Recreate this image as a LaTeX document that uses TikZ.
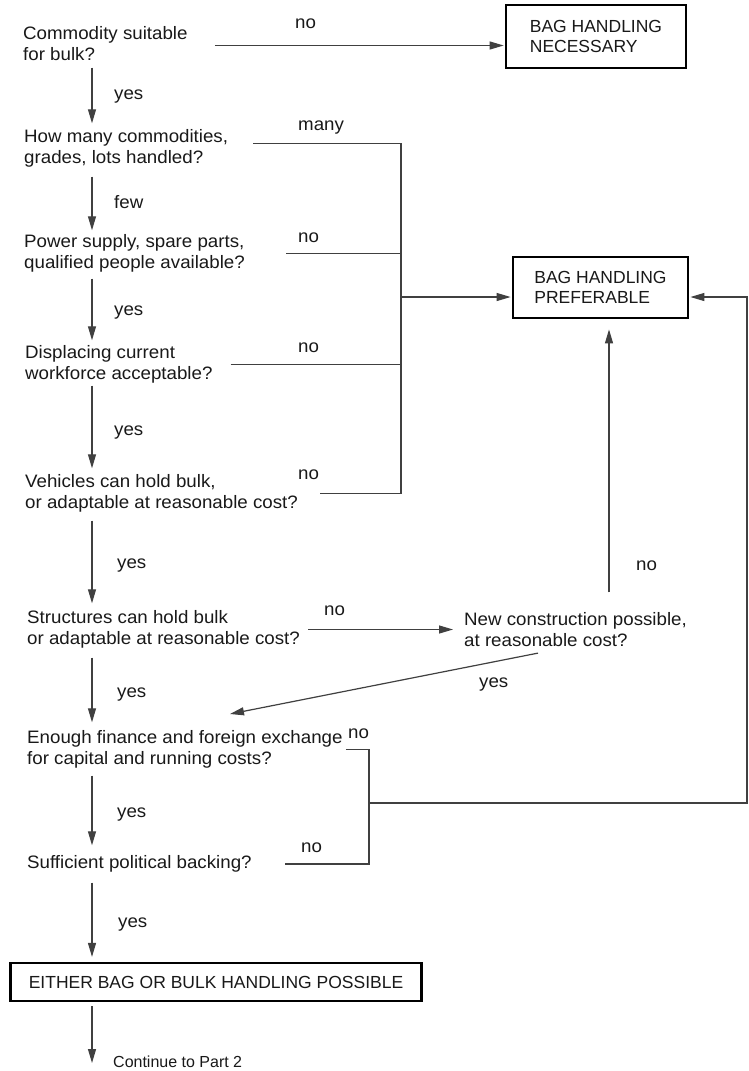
\documentclass[tikz,border=0pt]{standalone}
\usepackage{fontspec}
\setmainfont{Liberation Sans}
\newfontfamily\qfam[FakeStretch=1.04]{Liberation Sans}
\usetikzlibrary{arrows.meta,calc}
\newcommand{\qfnt}{\qfam\fontsize{18}{21}\selectfont}
\newcommand{\bfnt}{\fontsize{17.5}{20}\selectfont}
\newcommand{\cfnt}{\fontsize{16}{19}\selectfont}
\definecolor{txt}{gray}{0.1}
\definecolor{lnc}{gray}{0.25}
\begin{document}
\begin{tikzpicture}[x=1pt,y=-1pt,
  q/.style={anchor=north west, inner sep=0pt, align=left, font=\qfnt, text=txt},
  lbl/.style={anchor=base west, inner sep=0pt, font=\qfnt, text=txt},
  ln/.style={draw=lnc, line width=1.2pt},
  arr/.style={ln, -{Triangle[length=14pt,width=8pt]}},
  outbox/.style={draw=black, line width=2.8pt, align=left, font=\bfnt, inner sep=0pt, text=txt},
]
\useasboundingbox (0,0) rectangle (748,1071);
\fill[white] (0,0) rectangle (748,1071);

% questions
\node[q] (q1) at (23,24.3) {\strut Commodity suitable\\for bulk?\strut};
\node[q] (q2) at (24,127.3) {\strut How many commodities,\\grades, lots handled?\strut};
\node[q] (q3) at (24,232.3) {\strut Power supply, spare parts,\\qualified people available?\strut};
\node[q] (q4) at (25,343.3) {\strut Displacing current\\workforce acceptable?\strut};
\node[q] (q5) at (25,472.3) {\strut Vehicles can hold bulk,\\or adaptable at reasonable cost?\strut};
\node[q] (q6) at (27,608.3) {\strut Structures can hold bulk\\or adaptable at reasonable cost?\strut};
\node[q] (q7) at (464,610.3) {\strut New construction possible,\\at reasonable cost?\strut};
\node[q] (q8) at (27,728.3) {\strut Enough finance and foreign exchange\\for capital and running costs?\strut};
\node[q] (q9) at (27,853.3) {\strut Sufficient political backing?\strut};

% outcome boxes
\node[outbox, minimum width=180pt, minimum height=63pt] (nec) at (596,36.5) {BAG HANDLING\\NECESSARY};
\node[outbox, minimum width=175pt, minimum height=61pt] (pref) at (600.5,287.5) {BAG HANDLING\\PREFERABLE};
\node[outbox, line width=2.2pt, minimum width=411pt, minimum height=38pt] (either) at (216,982) {EITHER BAG OR BULK HANDLING POSSIBLE};

% helper coordinates
\coordinate (sp) at (92,0);
\coordinate (bus) at (401,0);
\coordinate (bus2) at (369,0);
\coordinate (up) at (609,0);
\coordinate (dx) at (540,0);
\coordinate (redge) at (747,0);
\coordinate (d2) at (230,714);
\coordinate (jr) at (369,803);
\coordinate (contend) at (92,1063);

% main spine
\draw[arr, shorten <=1pt, shorten >=4pt] (q1.south -| sp) -- (q2.north -| sp);
\draw[arr, shorten <=7pt, shorten >=2pt] (q2.south -| sp) -- (q3.north -| sp);
\draw[arr, shorten <=4pt, shorten >=3pt] (q3.south -| sp) -- (q4.north -| sp);
\draw[arr, shorten <=0pt, shorten >=4pt] (q4.south -| sp) -- (q5.north -| sp);
\draw[arr, shorten <=6pt, shorten >=5pt] (q5.south -| sp) -- (q6.north -| sp);
\draw[arr, shorten <=7pt, shorten >=6pt] (q6.south -| sp) -- (q8.north -| sp);
\draw[arr, shorten <=5pt, shorten >=8pt] (q8.south -| sp) -- (q9.north -| sp);
\draw[arr, shorten <=8pt, shorten >=5pt] (q9.south -| sp) -- (either.north -| sp);
\draw[arr, shorten <=4pt] (either.south -| sp) -- (contend);

% q1 -> necessary
\draw[arr, shorten >=1pt] ([xshift=27pt]q1.east) -- (q1.east -| nec.west);

% bus to preferable
\coordinate (s2) at ([xshift=25pt,yshift=5pt]q2.east);
\coordinate (s3) at ([xshift=41pt]q3.east);
\coordinate (s4) at ([xshift=18pt]q4.east);
\coordinate (s5) at ([xshift=22pt]q5.east);
\coordinate (pl) at ([yshift=-9.5pt]pref.west);
\coordinate (pr) at ([yshift=-9.5pt]pref.east);
\draw[ln] (s2) -- (s2 -| bus) -- (s5 -| bus) -- (s5);
\draw[ln] (s3) -- (s3 -| bus);
\draw[ln] (s4) -- (s4 -| bus);
\draw[arr, shorten >=1pt] (pl -| bus) -- (pl);

% structures -> new construction
\draw[arr, shorten >=11pt] ([xshift=8pt]q6.east) -- (q6.east -| q7.west);
\draw[arr, shorten <=18pt, shorten >=10pt] (q7.north -| up) -- (pref.south -| up);
\draw[arr, shorten <=2pt] (q7.south -| dx) -- (d2);

% finance / political loop
\coordinate (s8) at ([xshift=3pt]q8.east);
\coordinate (s9) at ([xshift=33pt]q9.east);
\draw[ln] (s8) -- (s8 -| bus2) -- (s9 -| bus2) -- (s9);
\draw[arr, shorten >=1pt] (jr) -- (jr -| redge) |- (pr);

% labels
\node[lbl] (l1) at (295,28) {no};
\node[lbl] (l2) at (114,99.5) {yes};
\node[lbl] (l3) at (298,130.5) {many};
\node[lbl] (l4) at (114,208) {few};
\node[lbl] (l5) at (298,242) {no};
\node[lbl] (l6) at (114,315) {yes};
\node[lbl] (l7) at (298,352) {no};
\node[lbl] (l8) at (114,435) {yes};
\node[lbl] (l9) at (298,479) {no};
\node[lbl] (l10) at (117,568) {yes};
\node[lbl] (l11) at (636,570) {no};
\node[lbl] (l12) at (324,615) {no};
\node[lbl] (l13) at (479,687) {yes};
\node[lbl] (l14) at (117,697) {yes};
\node[lbl] (l15) at (348,738) {no};
\node[lbl] (l16) at (117,817) {yes};
\node[lbl] (l17) at (301,852) {no};
\node[lbl] (l18) at (118,927) {yes};
\node[lbl, font=\cfnt] (cont) at (113,1067) {Continue to Part 2};
\end{tikzpicture}
\end{document}
